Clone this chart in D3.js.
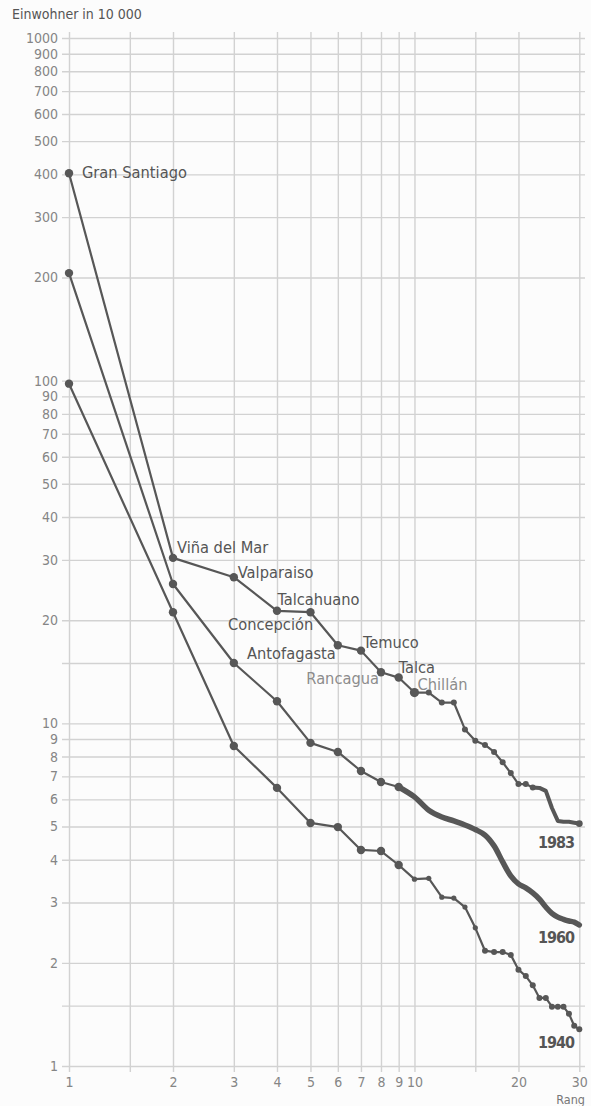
<!DOCTYPE html>
<html>
<head>
<meta charset="utf-8">
<script src="https://cdn.jsdelivr.net/npm/d3@7"></script>
<style>
  html, body { margin: 0; padding: 0; background: #fcfcfc; }
  svg { display: block; }
  .lbl { font-family: "DejaVu Sans Condensed", "Liberation Sans Narrow", "Liberation Sans", sans-serif; }
</style>
</head>
<body>
<svg id="chart" width="591" height="1106"></svg>
<script>
// Rank-size distribution of Chilean cities (population in units of 10 000)
const ranks = [1, 2, 3, 4, 5, 6, 7, 8, 9, 10, 11, 12, 13, 14, 15,
               16, 17, 18, 19, 20, 21, 22, 23, 24, 25, 26, 27, 28, 29, 30];

const pop1983 = [403, 30.4, 26.7, 21.3, 21.1, 16.9, 16.3, 14.1, 13.6, 12.3,
                 12.3, 11.5, 11.5, 9.6, 8.9, 8.65, 8.25, 7.7, 7.16, 6.65,
                 6.65, 6.5, 6.48, 6.35, 5.66, 5.19, 5.16, 5.16, 5.13, 5.10];

const pop1960 = [206, 25.5, 15.0, 11.6, 8.77, 8.25, 7.26, 6.74, 6.52, 6.10,
                 5.58, 5.33, 5.19, 5.05, 4.90, 4.72, 4.39, 3.94, 3.59, 3.40,
                 3.31, 3.20, 3.07, 2.91, 2.79, 2.72, 2.68, 2.65, 2.63, 2.58];

const pop1940 = [98, 21.1, 8.59, 6.48, 5.12, 4.98, 4.27, 4.24, 3.86, 3.51,
                 3.53, 3.11, 3.09, 2.91, 2.53, 2.17, 2.15, 2.15, 2.11, 1.91,
                 1.83, 1.72, 1.58, 1.58, 1.49, 1.49, 1.49, 1.42, 1.31, 1.28];

const years = ["1983", "1960", "1940"];

const cities1983 = ["Gran Santiago", "Viña del Mar", "Valparaiso", "Concepción",
                    "Talcahuano", "Antofagasta", "Temuco", "Rancagua", "Talca", "Chillán"];

const yTicks = [1, 1.5, 2, 3, 4, 5, 6, 7, 8, 9, 10, 15, 20, 30, 40, 50, 60, 70, 80, 90,
                100, 200, 300, 400, 500, 600, 700, 800, 900, 1000];
const yTickLabels = ["1", "", "2", "3", "4", "5", "6", "7", "8", "9", "10", "", "20", "30", "40",
                     "50", "60", "70", "80", "90", "100", "200", "300", "400", "500", "600",
                     "700", "800", "900", "1000"];
const xTicks = [1, 1.5, 2, 3, 4, 5, 6, 7, 8, 9, 10, 15, 20, 30];
const xTickLabels = ["1", "", "2", "3", "4", "5", "6", "7", "8", "9", "10", "", "20", "30"];

// ---- layout ----
const svg = d3.select("#chart");
const ink = "#575757";
const gridColor = "#d2d2d2";

const x = d3.scaleLog().domain([1, 30]).range([69, 579.3]);
const y = d3.scaleLog().domain([1, 1000]).range([1066, 38]);

// horizontal grid + value labels
const yAxis = d3.axisLeft(y)
  .tickValues(yTicks)
  .tickFormat((d, i) => yTickLabels[i])
  .tickSize(585 - 62)
  .tickPadding(4);
const gy = svg.append("g").attr("transform", "translate(585,0)").call(yAxis);
gy.select(".domain").remove();
gy.selectAll("line").attr("stroke", gridColor).attr("stroke-width", 1.4);
gy.selectAll("text").attr("class", "lbl").attr("fill", "#858585")
  .attr("font-size", 14);

// vertical grid + rank labels
const xAxis = d3.axisBottom(x)
  .tickValues(xTicks)
  .tickFormat((d, i) => xTickLabels[i])
  .tickSize(1072 - 32)
  .tickPadding(5);
const gx = svg.append("g").attr("transform", "translate(0,32)").call(xAxis);
gx.select(".domain").remove();
gx.selectAll("line").attr("stroke", gridColor).attr("stroke-width", 1.4);
gx.selectAll("text").attr("class", "lbl").attr("fill", "#858585")
  .attr("font-size", 14);

// titles
svg.append("text").attr("class", "lbl").attr("x", 12).attr("y", 19)
  .attr("font-size", 14).attr("fill", "#555").text("Einwohner in 10 000");
svg.append("text").attr("class", "lbl").attr("x", 585).attr("y", 1104)
  .attr("text-anchor", "end").attr("font-size", 12.5).attr("fill", "#777").text("Rang");

// ---- series ----
const series = [pop1983, pop1960, pop1940].map((vals, k) =>
  ranks.map((r, i) => ({ rank: r, v: vals[i], year: years[k] })));

const line = d3.line().x(d => x(d.rank)).y(d => y(d.v));
const smooth = d3.line().x(d => x(d.rank)).y(d => y(d.v)).curve(d3.curveCatmullRom.alpha(0.5));

// thin dotted-trace part and heavier trailing part per series
const thinUntil = { "1983": 22, "1960": 9, "1940": 30 };
const heavyWidth = { "1983": 4, "1960": 5.5, "1940": 2 };

series.forEach(s => {
  const yr = s[0].year;
  const cut = thinUntil[yr];
  svg.append("path").datum(s.filter(d => d.rank <= cut))
    .attr("d", line).attr("fill", "none").attr("stroke", ink)
    .attr("stroke-width", 2.2).attr("stroke-linejoin", "round");
  if (cut < 30) {
    svg.append("path").datum(s.filter(d => d.rank >= cut))
      .attr("d", yr === "1960" ? smooth : line).attr("fill", "none").attr("stroke", ink)
      .attr("stroke-width", heavyWidth[yr]).attr("stroke-linejoin", "round")
      .attr("stroke-linecap", "round");
  }
});

function dotRadius(d) {
  if (d.year === "1983") {
    if (d.rank <= 10) return d.rank === 10 ? 4.6 : 4.2;
    if (d.rank <= 22) return 3;
    return d.rank === 30 ? 3.4 : 0;
  }
  if (d.year === "1960") return d.rank <= 9 ? 4.2 : 0;
  if (d.rank <= 9) return 4.2;
  if (d.rank <= 15) return 2.6;
  return 3;
}

svg.append("g").selectAll("circle")
  .data(series.flat().filter(d => dotRadius(d) > 0))
  .join("circle")
  .attr("cx", d => x(d.rank)).attr("cy", d => y(d.v))
  .attr("r", dotRadius).attr("fill", ink);

// city names for 1983
const cityPlacement = [
  { dx: 13, dy: -1, anchor: "start", col: "#555" },
  { dx: 4, dy: -11, anchor: "start", col: "#555" },
  { dx: 4, dy: -5, anchor: "start", col: "#555" },
  { dx: -49, dy: 13, anchor: "start", col: "#555" },
  { dx: -33, dy: -13, anchor: "start", col: "#555" },
  { dx: -2, dy: 8, anchor: "end", col: "#555" },
  { dx: 2, dy: -8, anchor: "start", col: "#555" },
  { dx: -2, dy: 6, anchor: "end", col: "#8c8c8c" },
  { dx: 0, dy: -10, anchor: "start", col: "#555" },
  { dx: 3, dy: -8, anchor: "start", col: "#8c8c8c" }
];
svg.append("g").selectAll("text")
  .data(cities1983)
  .join("text")
  .attr("class", "lbl")
  .attr("x", (c, i) => x(ranks[i]) + cityPlacement[i].dx)
  .attr("y", (c, i) => y(pop1983[i]) + cityPlacement[i].dy)
  .attr("dy", "0.36em")
  .attr("text-anchor", (c, i) => cityPlacement[i].anchor)
  .attr("font-size", 16.3)
  .attr("fill", (c, i) => cityPlacement[i].col)
  .text(c => c);

// year tags at the right end of each trace
const yearOffset = { "1983": 19, "1960": 12, "1940": 13 };
svg.append("g").selectAll("text")
  .data(series.map(s => s[s.length - 1]))
  .join("text")
  .attr("class", "lbl")
  .attr("x", 574)
  .attr("y", d => y(d.v) + yearOffset[d.year])
  .attr("dy", "0.36em")
  .attr("text-anchor", "end")
  .attr("font-size", 16)
  .attr("font-weight", "bold")
  .attr("letter-spacing", -1)
  .attr("fill", "#555")
  .text(d => d.year);
</script>
</body>
</html>
